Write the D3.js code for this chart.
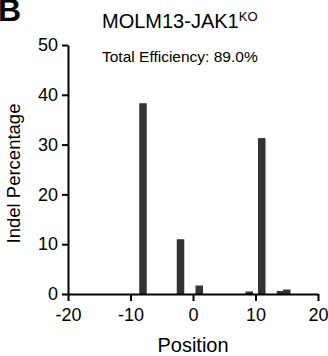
<!DOCTYPE html>
<html>
<head>
<meta charset="utf-8">
<script src="https://cdn.jsdelivr.net/npm/d3@7"></script>
<style>
  body { margin: 0; background: #fff; }
  text { font-family: "Liberation Sans", Arial, sans-serif; }
</style>
</head>
<body>
<div id="chart"></div>
<script>
// indel positions and percentages
const positions = [-8, -2, 1, 9, 11, 14, 15];
const indelPct = [38.3, 11.0, 1.7, 0.5, 31.3, 0.6, 0.9];
const xTicks = [-20, -10, 0, 10, 20];
const yTicks = [0, 10, 20, 30, 40, 50];

const svg = d3.select("#chart")
    .append("svg")
    .attr("width", 328)
    .attr("height", 356);

const margin = {top: 45, right: 10, bottom: 62, left: 68};
const width = 328, height = 356;

const x = d3.scaleLinear()
    .domain([-20, 20])
    .range([margin.left, width - margin.right]);

const y = d3.scaleLinear()
    .domain([0, 50])
    .range([height - margin.bottom, margin.top]);

const barW = 1.2; // in position units

svg.append("g")
    .selectAll("rect")
    .data(positions)
    .join("rect")
    .attr("x", (d) => x(d - barW / 2))
    .attr("width", x(barW) - x(0))
    .attr("y", (d, i) => y(indelPct[i]))
    .attr("height", (d, i) => y(0) - y(indelPct[i]))
    .attr("fill", "#333333");

// plain hyphen for negatives, like the original
const fmt = d => String(d);

const xAxis = svg.append("g")
    .attr("transform", `translate(0,${y(0)})`)
    .call(d3.axisBottom(x).tickValues(xTicks).tickFormat(fmt)
        .tickSize(7).tickPadding(7).tickSizeOuter(0));

const yAxis = svg.append("g")
    .attr("transform", `translate(${margin.left},0)`)
    .call(d3.axisLeft(y).tickValues(yTicks).tickFormat(fmt)
        .tickSize(6).tickPadding(4).tickSizeOuter(0));

[xAxis, yAxis].forEach(g => {
    g.select(".domain").attr("stroke", "#000").attr("stroke-width", 2);
    g.selectAll(".tick line").attr("stroke", "#000").attr("stroke-width", 2);
    g.selectAll(".tick text")
        .attr("fill", "#000")
        .style("font-size", "18px")
        .style("font-family", "'Liberation Sans', Arial, sans-serif");
});

// panel letter
svg.append("text")
    .attr("x", -2)
    .attr("y", 21)
    .style("font-size", "32px")
    .style("font-weight", "bold")
    .text("B");

const title = svg.append("text")
    .attr("x", 102)
    .attr("y", 28)
    .style("font-size", "20px");
title.append("tspan").text("MOLM13-JAK1");
title.append("tspan")
    .attr("dy", -7)
    .style("font-size", "13px")
    .text("KO");

svg.append("text")
    .attr("x", 102)
    .attr("y", 62)
    .style("font-size", "15.5px")
    .text("Total Efficiency: 89.0%");

svg.append("text")
    .attr("x", x(0))
    .attr("y", 352)
    .attr("text-anchor", "middle")
    .style("font-size", "20px")
    .text("Position");

svg.append("text")
    .attr("transform", `translate(20,${(y(0) + y(50)) / 2 + 4}) rotate(-90)`)
    .attr("text-anchor", "middle")
    .style("font-size", "18.5px")
    .text("Indel Percentage");
</script>
</body>
</html>
